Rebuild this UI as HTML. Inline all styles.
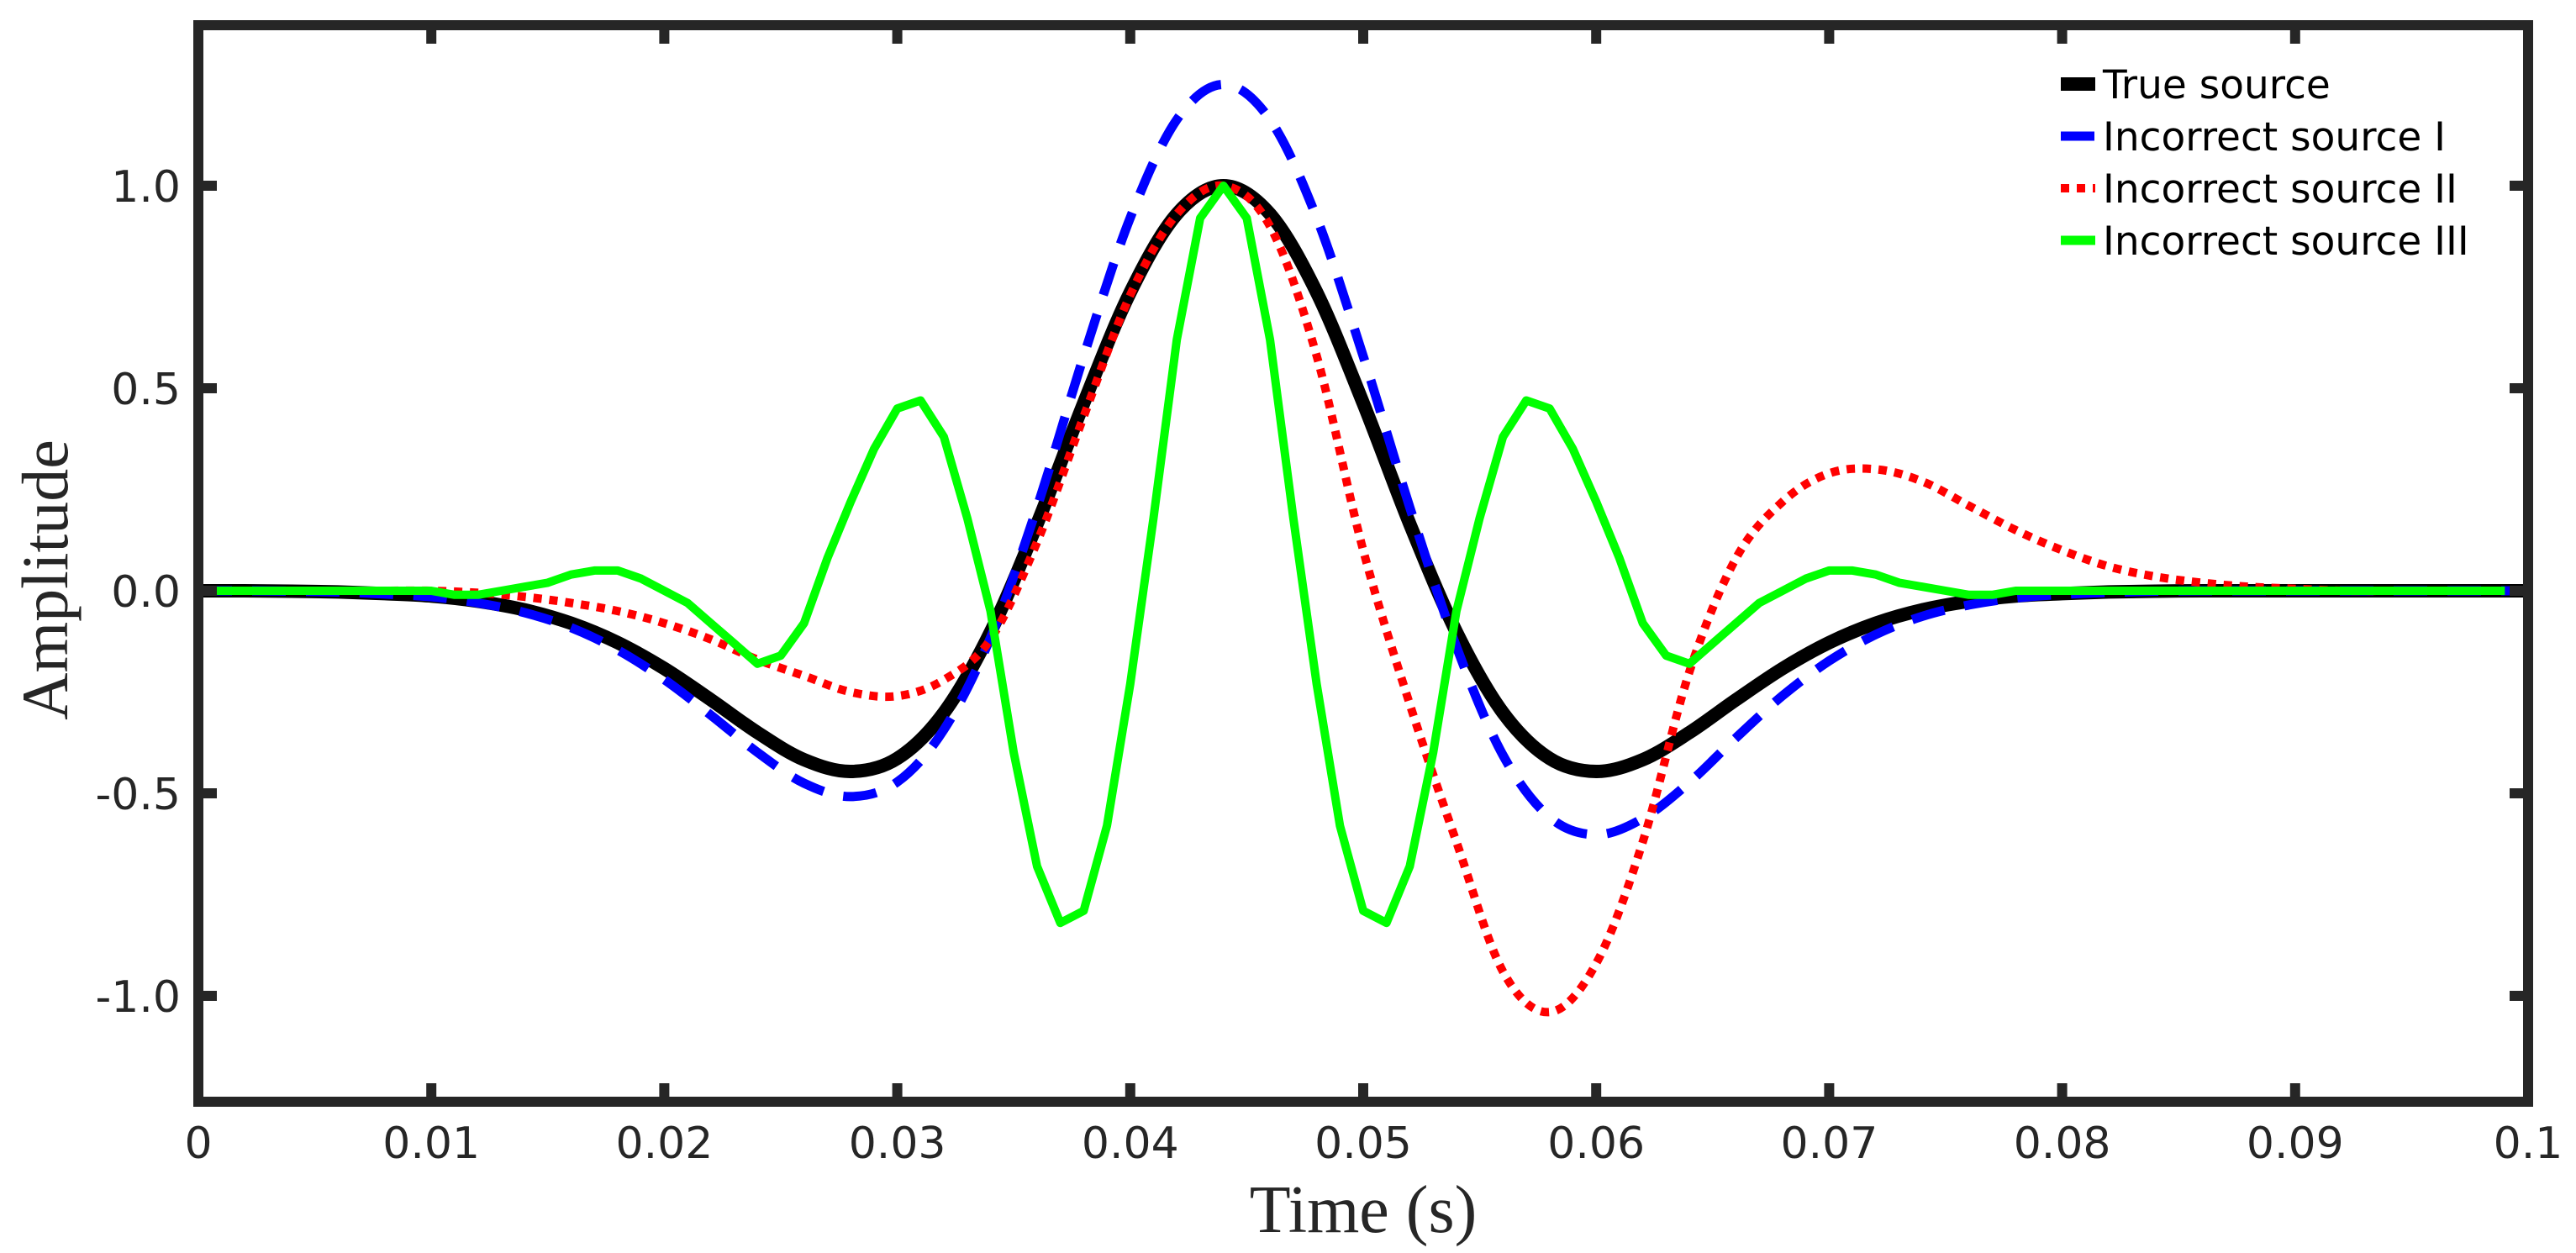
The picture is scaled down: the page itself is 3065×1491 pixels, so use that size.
<!DOCTYPE html>
<html><head><meta charset="utf-8">
<style>
html,body{margin:0;padding:0;background:#fff;}
svg{display:block;}
</style></head>
<body>
<svg id="chart" width="3065" height="1491" viewBox="0 0 3065 1491" xmlns="http://www.w3.org/2000/svg">
<rect x="0" y="0" width="3065" height="1491" fill="#fff"/>
<g id="series"></g>
<g id="axes"></g>
<g id="legend"></g>
</svg>
<script>
// ---- data ----
const xTicks = [0,0.01,0.02,0.03,0.04,0.05,0.06,0.07,0.08,0.09,0.1];
const xTickLabels = ["0","0.01","0.02","0.03","0.04","0.05","0.06","0.07","0.08","0.09","0.1"];
const yTicks = [-1,-0.5,0,0.5,1];
const yTickLabels = ["-1.0","-0.5","0.0","0.5","1.0"];
const timeCoarse = [0,0.002,0.004,0.006,0.008,0.010,0.012,0.014,0.016,0.018,0.020,0.022,0.024,0.026,0.028,0.030,0.032,0.034,0.036,0.038,0.040,0.042,0.044,0.046,0.048,0.050,0.052,0.054,0.056,0.058,0.060,0.062,0.064,0.066,0.068,0.070,0.072,0.074,0.076,0.078,0.080,0.082,0.084,0.086,0.088,0.090,0.092,0.094,0.096,0.098,0.100];
const trueSource = [0,0,-0.001,-0.003,-0.007,-0.013,-0.026,-0.047,-0.080,-0.128,-0.192,-0.269,-0.350,-0.417,-0.446,-0.414,-0.301,-0.102,0.165,0.463,0.737,0.930,1.0,0.930,0.737,0.463,0.165,-0.102,-0.301,-0.414,-0.446,-0.417,-0.350,-0.269,-0.192,-0.128,-0.080,-0.047,-0.026,-0.013,-0.007,-0.003,-0.001,0,0,0,0,0,0,0,0];
const incorrectI = [0,0,-0.001,-0.003,-0.008,-0.015,-0.030,-0.054,-0.091,-0.146,-0.219,-0.307,-0.399,-0.475,-0.508,-0.472,-0.343,-0.116,0.206,0.579,0.921,1.163,1.25,1.163,0.921,0.579,0.206,-0.138,-0.406,-0.559,-0.602,-0.562,-0.473,-0.363,-0.259,-0.173,-0.108,-0.063,-0.035,-0.018,-0.009,-0.004,-0.001,0,0,0,0,0,0,0,0];
const incorrectII = [0,0,0,0,0,0,-0.005,-0.015,-0.03,-0.05,-0.08,-0.12,-0.17,-0.21,-0.25,-0.26,-0.22,-0.12,0.12,0.43,0.73,0.93,1.0,0.90,0.58,0.10,-0.28,-0.62,-0.94,-1.04,-0.92,-0.62,-0.20,0.08,0.22,0.29,0.30,0.27,0.21,0.15,0.10,0.06,0.035,0.02,0.01,0.005,0,0,0,0,0];
const timeFine = [0,0.001,0.002,0.003,0.004,0.005,0.006,0.007,0.008,0.009,0.010,0.011,0.012,0.013,0.014,0.015,0.016,0.017,0.018,0.019,0.020,0.021,0.022,0.023,0.024,0.025,0.026,0.027,0.028,0.029,0.030,0.031,0.032,0.033,0.034,0.035,0.036,0.037,0.038,0.039,0.040,0.041,0.042,0.043,0.044,0.045,0.046,0.047,0.048,0.049,0.050,0.051,0.052,0.053,0.054,0.055,0.056,0.057,0.058,0.059,0.060,0.061,0.062,0.063,0.064,0.065,0.066,0.067,0.068,0.069,0.070,0.071,0.072,0.073,0.074,0.075,0.076,0.077,0.078,0.079,0.080,0.081,0.082,0.083,0.084,0.085,0.086,0.087,0.088,0.089,0.090,0.091,0.092,0.093,0.094,0.095,0.096,0.097,0.098,0.099,0.100];
const incorrectIII = [0,0,0,0,0,0,0,0,0,0,0,-0.01,-0.01,0,0.01,0.02,0.04,0.05,0.05,0.03,0.0,-0.03,-0.08,-0.13,-0.18,-0.16,-0.08,0.08,0.22,0.35,0.45,0.47,0.38,0.18,-0.05,-0.4,-0.68,-0.82,-0.79,-0.58,-0.23,0.18,0.62,0.92,1.0,0.92,0.62,0.18,-0.23,-0.58,-0.79,-0.82,-0.68,-0.4,-0.05,0.18,0.38,0.47,0.45,0.35,0.22,0.08,-0.08,-0.16,-0.18,-0.13,-0.08,-0.03,0.0,0.03,0.05,0.05,0.04,0.02,0.01,0,-0.01,-0.01,0,0,0,0,0,0,0,0,0,0,0,0,0,0,0,0,0,0,0,0,0,0];
const legendLabels = ["True source","Incorrect source I","Incorrect source II","Incorrect source III"];

// ---- layout ----
const NS = "http://www.w3.org/2000/svg";
const L = 236, R = 3008, T = 30, B = 1311;
const Y0 = 703, YU = 482;
const xs = v => L + (v - 0) / 0.1 * (R - L);
const ys = v => Y0 - v * YU;
function mk(tag, attrs, parent){ const e = document.createElementNS(NS, tag); for (const k in attrs) e.setAttribute(k, attrs[k]); parent.appendChild(e); return e; }

function smoothPath(tx, vy){
  const p = tx.map((t,i)=>[xs(t), ys(vy[i])]);
  let d = "M" + p[0][0].toFixed(1) + "," + p[0][1].toFixed(1);
  for (let i=0;i<p.length-1;i++){
    const p0 = p[Math.max(0,i-1)], p1 = p[i], p2 = p[i+1], p3 = p[Math.min(p.length-1,i+2)];
    const c1x = p1[0] + (p2[0]-p0[0])/6, c1y = p1[1] + (p2[1]-p0[1])/6;
    const c2x = p2[0] - (p3[0]-p1[0])/6, c2y = p2[1] - (p3[1]-p1[1])/6;
    d += " C" + c1x.toFixed(1)+","+c1y.toFixed(1)+" "+c2x.toFixed(1)+","+c2y.toFixed(1)+" "+p2[0].toFixed(1)+","+p2[1].toFixed(1);
  }
  return d;
}
function linePath(tx, vy){
  return tx.map((t,i)=>(i?"L":"M")+xs(t).toFixed(1)+","+ys(vy[i]).toFixed(1)).join(" ");
}

const sg = document.getElementById("series");
let e;
e = mk("path", {d: smoothPath(timeCoarse, trueSource), fill:"none", stroke:"#000", "stroke-width":16, "stroke-linejoin":"round"}, sg);


e = mk("path", {d: smoothPath(timeCoarse, incorrectI), fill:"none", stroke:"#0000ff", "stroke-width":11, "stroke-dasharray":"40 24"}, sg);


e = mk("path", {d: smoothPath(timeCoarse, incorrectII), fill:"none", stroke:"#ff0000", "stroke-width":10, "stroke-dasharray":"10 9"}, sg);


e = mk("path", {d: linePath(timeFine, incorrectIII), fill:"none", stroke:"#00ff00", "stroke-width":10, "stroke-linejoin":"round"}, sg);



// ---- axes ----
const ag = document.getElementById("axes");
const AX = "#262626";
xTicks.forEach((t,i)=>{
  const x = xs(t);
  let tk = mk("line",{x1:x,x2:x,y1:B,y2:B-22,stroke:AX,"stroke-width":12},ag);
  
  
  tk = mk("line",{x1:x,x2:x,y1:T,y2:T+22,stroke:AX,"stroke-width":12},ag);
  
  
  const lb = mk("text",{x:x,y:1378,"text-anchor":"middle","font-family":"DejaVu Sans, Liberation Sans, sans-serif","font-size":52,fill:AX},ag);
  lb.textContent = xTickLabels[i];
  
  
});
yTicks.forEach((v,i)=>{
  const y = ys(v);
  let tk = mk("line",{x1:L,x2:L+22,y1:y,y2:y,stroke:AX,"stroke-width":12},ag);
  
  
  tk = mk("line",{x1:R,x2:R-22,y1:y,y2:y,stroke:AX,"stroke-width":12},ag);
  
  
  const lb = mk("text",{x:215,y:y+19,"text-anchor":"end","font-family":"DejaVu Sans, Liberation Sans, sans-serif","font-size":52,fill:AX},ag);
  lb.textContent = yTickLabels[i];
  
  
});
let fr = mk("rect",{x:L,y:T,width:R-L,height:B-T,fill:"none",stroke:AX,"stroke-width":12},ag);


let xt = mk("text",{x:(L+R)/2,y:1466,"text-anchor":"middle","font-family":"Liberation Serif, serif","font-size":80,fill:AX},ag);
xt.textContent = "Time (s)";


let yt = mk("text",{x:0,y:0,"text-anchor":"middle","font-family":"Liberation Serif, serif","font-size":78,fill:AX,transform:"translate(80,690) rotate(-90)"},ag);
yt.textContent = "Amplitude";



// ---- legend ----
const lg = document.getElementById("legend");
const legStyles = [
  {stroke:"#000","stroke-width":16},
  {stroke:"#0000ff","stroke-width":11,"stroke-dasharray":"40 24"},
  {stroke:"#ff0000","stroke-width":10,"stroke-dasharray":"10 9"},
  {stroke:"#00ff00","stroke-width":11}
];
const legNames = ["legend-entry-true-source","legend-entry-incorrect-i","legend-entry-incorrect-ii","legend-entry-incorrect-iii"];
legendLabels.forEach((lab,i)=>{
  const cy = 100 + i*62;
  const g = mk("g",{},lg);
  
  
  const s = Object.assign({x1:2452,x2:2493,y1:cy,y2:cy},legStyles[i]);
  const ln = mk("line",s,g);
  
  
  const tx = mk("text",{x:2502,y:cy+17,"font-family":"DejaVu Sans, Liberation Sans, sans-serif","font-size":47,fill:"#000"},g);
  tx.textContent = lab;
  
  
});
</script>
</body></html>
